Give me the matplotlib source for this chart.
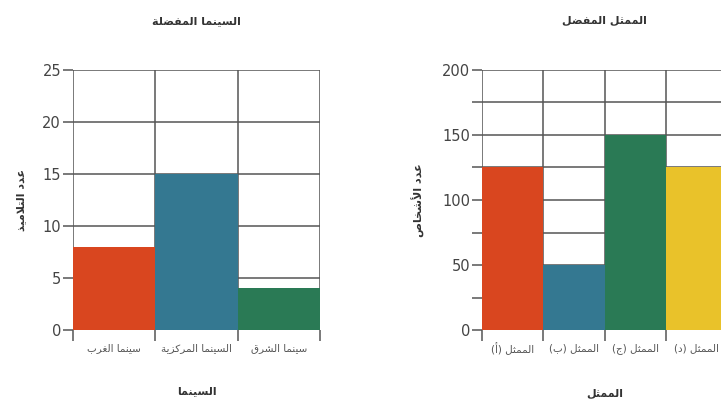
import numpy as np
import matplotlib.pyplot as plt
from matplotlib.ticker import FixedLocator, FuncFormatter

# cinema chart
cinema_title = 'السينما المفضلة'
cinema_xlabel = 'السينما'
cinema_ylabel = 'عدد التلاميذ'
cinemas = ['سينما الغرب', 'السينما المركزية', 'سينما الشرق']
students = [8, 15, 4]
cinema_colors = ['#d9461f', '#347891', '#2a7a55']

# actor chart
actor_title = 'الممثل المفضل'
actor_xlabel = 'الممثل'
actor_ylabel = 'عدد الأشخاص'
actors = ['الممثل (أ)', 'الممثل (ب)', 'الممثل (ج)', 'الممثل (د)']
people = [125, 50, 150, 125]
actor_colors = ['#d9461f', '#347891', '#2a7a55', '#e9c22a']

# matplotlib has no arabic shaping, so pick presentation forms by hand
DUAL = {'ب': 0xFE8F, 'ت': 0xFE95, 'ث': 0xFE99, 'ج': 0xFE9D, 'ح': 0xFEA1,
        'خ': 0xFEA5, 'س': 0xFEB1, 'ش': 0xFEB5, 'ص': 0xFEB9, 'ض': 0xFEBD,
        'ط': 0xFEC1, 'ظ': 0xFEC5, 'ع': 0xFEC9, 'غ': 0xFECD, 'ف': 0xFED1,
        'ق': 0xFED5, 'ك': 0xFED9, 'ل': 0xFEDD, 'م': 0xFEE1, 'ن': 0xFEE5,
        'ه': 0xFEE9, 'ي': 0xFEF1}
RIGHT = {'ا': 0xFE8D, 'أ': 0xFE83, 'ة': 0xFE93, 'د': 0xFEA9, 'ذ': 0xFEAB,
         'ر': 0xFEAD, 'ز': 0xFEAF, 'و': 0xFEED}
LAM_ALEF = {'ا': 0xFEFB, 'أ': 0xFEF7}


def shape(text):
    out = []
    i = 0
    n = len(text)
    while i < n:
        c = text[i]
        prev_joins = i > 0 and text[i - 1] in DUAL and (out and out[-1][1])
        if c == 'ل' and i + 1 < n and text[i + 1] in LAM_ALEF:
            base = LAM_ALEF[text[i + 1]]
            out.append((chr(base + (1 if prev_joins else 0)), False))
            i += 2
            continue
        if c in DUAL or c in RIGHT:
            nxt = text[i + 1] if i + 1 < n else ''
            next_joins = c in DUAL and (nxt in DUAL or nxt in RIGHT)
            if c in RIGHT:
                form = RIGHT[c] + (1 if prev_joins else 0)
            else:
                if prev_joins and next_joins:
                    form = DUAL[c] + 3
                elif prev_joins:
                    form = DUAL[c] + 1
                elif next_joins:
                    form = DUAL[c] + 2
                else:
                    form = DUAL[c]
            out.append((chr(form), next_joins))
        else:
            out.append((c, False))
        i += 1
    s = ''.join(ch for ch, _ in out)[::-1]
    return s.translate(str.maketrans('()', ')('))


plt.rcParams['font.family'] = ['DejaVu Sans']

fig = plt.figure(figsize=(7.21, 4.04), dpi=100)
ax1 = fig.add_axes([0.101, 0.183, 0.343, 0.644])
ax2 = fig.add_axes([0.6685, 0.183, 0.340, 0.644])

grid_color = '#555555'


def draw(ax, names, values, colors, ymax, ystep, label_step, title, xlabel, ylabel):
    x = np.arange(len(names))
    ax.bar(x, values, width=1.0, color=colors, zorder=2)
    ax.set_xlim(-0.5, len(names) - 0.5)
    ax.set_ylim(0, ymax)
    for s in ax.spines.values():
        s.set_visible(False)
    ax.set_axisbelow(True)

    ax.xaxis.set_major_locator(FixedLocator(np.arange(len(names) + 1) - 0.5))
    ax.xaxis.set_major_formatter(FuncFormatter(lambda v, p: ''))
    ax.xaxis.set_minor_locator(FixedLocator(x))
    ax.set_xticklabels([shape(n) for n in names], minor=True)
    ax.tick_params(axis='x', which='major', length=8, width=1.1, color=grid_color)
    ax.tick_params(axis='x', which='minor', length=0, pad=9, labelsize=7.5, labelcolor='#555555')

    ax.yaxis.set_major_locator(FixedLocator(np.arange(0, ymax + 1, ystep)))
    ax.yaxis.set_major_formatter(FuncFormatter(
        lambda v, p: f'{v:.0f}' if round(v) % label_step == 0 else ''))
    ax.tick_params(axis='y', length=7.5, width=1.1, color=grid_color, pad=1,
                   labelsize=10.5, labelcolor='#444444')

    ax.grid(True, which='major', color=grid_color, linewidth=1.1)
    ax.set_title(shape(title), fontsize=8, fontweight='bold', color='#333333', pad=33)
    ax.set_xlabel(shape(xlabel), fontsize=8, fontweight='bold', color='#333333', labelpad=24)
    ax.set_ylabel(shape(ylabel), fontsize=8, fontweight='bold', color='#333333', labelpad=12)


draw(ax1, cinemas, students, cinema_colors, 25, 5, 5,
     cinema_title, cinema_xlabel, cinema_ylabel)
draw(ax2, actors, people, actor_colors, 200, 25, 50,
     actor_title, actor_xlabel, actor_ylabel)

fig.savefig('out.png', dpi=100)
